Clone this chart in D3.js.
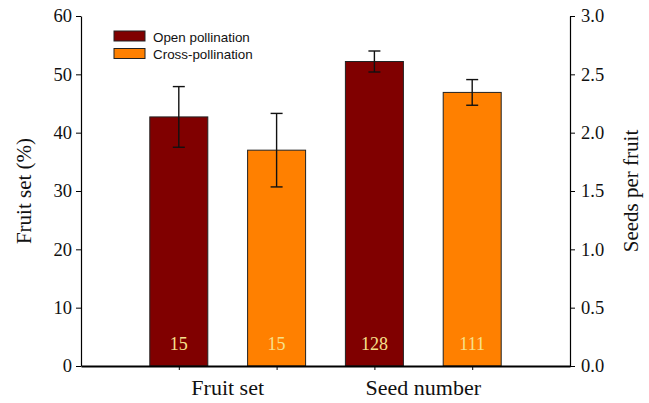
<!DOCTYPE html>
<html>
<head>
<meta charset="utf-8">
<script src="https://cdn.jsdelivr.net/npm/d3@7.9.0/dist/d3.min.js"></script>
<style>
  body { margin: 0; background: #fff; }
  svg { display: block; }
</style>
</head>
<body>
<svg id="chart" width="649" height="403"></svg>
<script>
// data
const bars = ["fruit-open", "fruit-cross", "seed-open", "seed-cross"];
const groups = ["Fruit set", "Seed number"];
const series = ["Open pollination", "Cross-pollination"];
const fruitSet = [42.7, 37.0];       // left axis, %
const fruitSetErr = [5.2, 6.3];
const seedsPerFruit = [2.61, 2.345]; // right axis
const seedsErr = [0.09, 0.11];
const sampleSizes = [15, 15, 128, 111];
const leftTicks = [0, 10, 20, 30, 40, 50, 60];
const rightTicks = [0, 0.5, 1.0, 1.5, 2.0, 2.5, 3.0];

const colors = ["#800000", "#ff8000"];

const margin = { top: 16, right: 79, bottom: 37, left: 81 };
const width = 649 - margin.left - margin.right;
const height = 403 - margin.top - margin.bottom;

const serif = "Liberation Serif, Times New Roman, serif";

const svg = d3.select("#chart");
const g = svg.append("g")
  .attr("transform", `translate(${margin.left},${margin.top})`);

const x = d3.scalePoint().domain(bars).range([0, width]).padding(1);
const yLeft = d3.scaleLinear().domain([0, 60]).range([height, 0]);
const yRight = d3.scaleLinear().domain([0, 3]).range([height, 0]);

const barW = 58;

const rows = bars.map((b, i) => {
  const seeds = i >= 2;
  const k = i % 2;
  const y = seeds ? yRight : yLeft;
  const v = seeds ? seedsPerFruit[k] : fruitSet[k];
  const e = seeds ? seedsErr[k] : fruitSetErr[k];
  return { key: b, y, v, e, color: colors[k], n: sampleSizes[i] };
});

// bars
g.selectAll("rect.bar")
  .data(rows)
  .join("rect")
  .attr("class", "bar")
  .attr("x", d => x(d.key) - barW / 2)
  .attr("y", d => d.y(d.v))
  .attr("width", barW)
  .attr("height", d => height - d.y(d.v))
  .attr("fill", d => d.color)
  .attr("stroke", "#222")
  .attr("stroke-width", 1);

// error bars
const err = g.selectAll("g.err").data(rows).join("g").attr("class", "err")
  .attr("stroke", "#111").attr("stroke-width", 1.4);
err.append("line")
  .attr("x1", d => x(d.key)).attr("x2", d => x(d.key))
  .attr("y1", d => d.y(d.v + d.e)).attr("y2", d => d.y(d.v - d.e));
err.append("line")
  .attr("x1", d => x(d.key) - 6).attr("x2", d => x(d.key) + 6)
  .attr("y1", d => d.y(d.v + d.e)).attr("y2", d => d.y(d.v + d.e));
err.append("line")
  .attr("x1", d => x(d.key) - 6).attr("x2", d => x(d.key) + 6)
  .attr("y1", d => d.y(d.v - d.e)).attr("y2", d => d.y(d.v - d.e));

// sample sizes
g.selectAll("text.n")
  .data(rows)
  .join("text")
  .attr("class", "n")
  .attr("x", d => x(d.key))
  .attr("y", height - 16.5)
  .attr("text-anchor", "middle")
  .attr("font-family", serif)
  .attr("font-size", 18)
  .attr("fill", "#f7e08c")
  .text(d => d.n);

// left axis
const axL = g.append("g")
  .call(d3.axisLeft(yLeft).tickValues(leftTicks).tickSize(5).tickSizeOuter(0).tickPadding(4));
axL.selectAll("text").attr("font-family", serif).attr("font-size", 18.5).attr("fill", "#111");

// right axis
const axR = g.append("g")
  .attr("transform", `translate(${width},0)`)
  .call(d3.axisRight(yRight).tickValues(rightTicks).tickFormat(d3.format(".1f"))
    .tickSize(5).tickSizeOuter(0).tickPadding(6));
axR.selectAll("text").attr("font-family", serif).attr("font-size", 18.5).attr("fill", "#111");

// bottom axis
const axB = g.append("g")
  .attr("transform", `translate(0,${height})`)
  .call(d3.axisBottom(x).tickSize(4).tickSizeOuter(0).tickFormat(""));
axB.select(".domain").attr("stroke-width", 2);
[axL, axR].forEach(a => a.select(".domain").attr("stroke-width", 1.2));

// group labels, centred between each pair of bars
groups.forEach((name, i) => {
  const cx = (x(bars[i * 2]) + x(bars[i * 2 + 1])) / 2;
  g.append("text")
    .attr("x", cx)
    .attr("y", height + 29)
    .attr("text-anchor", "middle")
    .attr("font-family", serif)
    .attr("font-size", 22)
    .attr("fill", "#111")
    .text(name);
});

// axis titles
svg.append("text")
  .attr("transform", `translate(31,${margin.top + height / 2}) rotate(-90)`)
  .attr("text-anchor", "middle")
  .attr("font-family", serif)
  .attr("font-size", 21)
  .attr("fill", "#111")
  .text("Fruit set (%)");

svg.append("text")
  .attr("transform", `translate(638,${margin.top + height / 2}) rotate(-90)`)
  .attr("text-anchor", "middle")
  .attr("font-family", serif)
  .attr("font-size", 21)
  .attr("fill", "#111")
  .text("Seeds per fruit");

// legend
const legend = svg.append("g").attr("transform", "translate(114,31)");
series.forEach((s, i) => {
  const row = legend.append("g").attr("transform", `translate(0,${i * 17.5})`);
  row.append("rect")
    .attr("width", 31).attr("height", 10)
    .attr("fill", colors[i]).attr("stroke", "#222").attr("stroke-width", 1);
  row.append("text")
    .attr("x", 39).attr("y", 10.5)
    .attr("font-family", "Liberation Sans, Arial, sans-serif")
    .attr("font-size", 13.4)
    .attr("fill", "#111")
    .text(s);
});
</script>
</body>
</html>
